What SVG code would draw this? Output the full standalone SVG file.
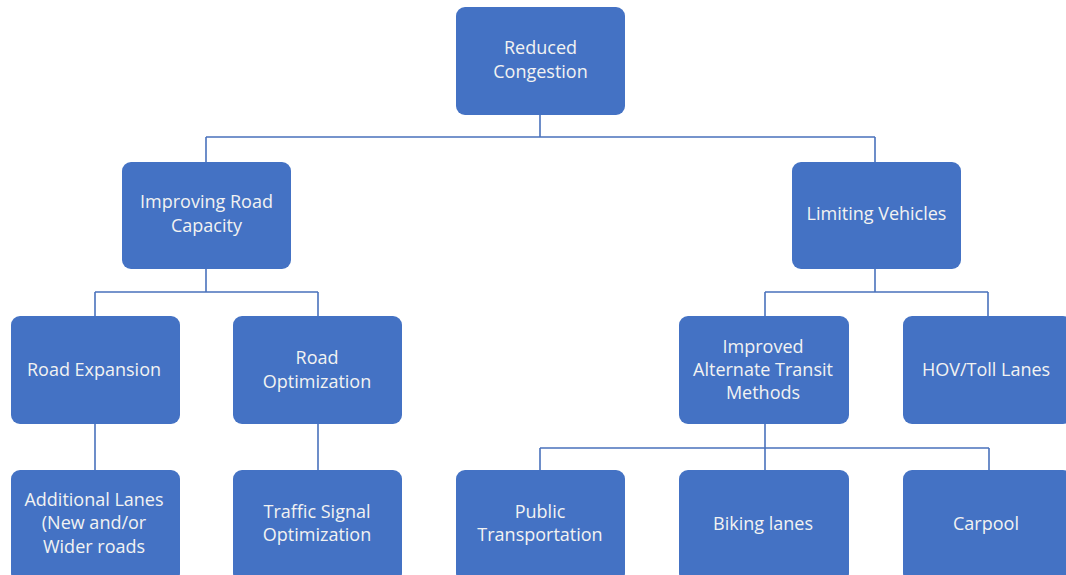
<svg xmlns="http://www.w3.org/2000/svg" width="1066" height="575" viewBox="0 0 1066 575">
<style>
.box{fill:#4472C4;}
.t{font-family:"Open Sans","Noto Sans","Liberation Sans",sans-serif;font-size:18px;fill:#F2F2F2;text-anchor:middle;}
.c{stroke:#4A72BC;stroke-width:1.6;fill:none;}
</style>
<rect width="1066" height="575" fill="#ffffff"/>
<g id="connectors">
<path class="c" d="M540 115V137M206 137H875M206 137V162M875 137V162"/>
<path class="c" d="M206 269V292M95 292H318M95 292V316M318 292V316"/>
<path class="c" d="M875 269V292M765 292H988M765 292V316M988 292V316"/>
<path class="c" d="M95 424V470M318 424V470"/>
<path class="c" d="M765 424V448M540 448H989M540 448V470M765 448V470M989 448V470"/>
</g>
<g id="reduced-congestion"><rect class="box" x="456" y="7" width="169" height="108" rx="9"/><text class="t" x="540.5" y="53.5">Reduced</text><text class="t" x="540.5" y="77.5">Congestion</text></g>
<g id="improving-road-capacity"><rect class="box" x="122" y="162" width="169" height="107" rx="9"/><text class="t" x="206.5" y="207.5">Improving Road</text><text class="t" x="206.5" y="231.5">Capacity</text></g>
<g id="limiting-vehicles"><rect class="box" x="792" y="162" width="169" height="107" rx="9"/><text class="t" x="876.5" y="219.5">Limiting Vehicles</text></g>
<g id="road-expansion"><rect class="box" x="11" y="316" width="169" height="108" rx="9"/><text class="t" x="94" y="375.5">Road Expansion</text></g>
<g id="road-optimization"><rect class="box" x="233" y="316" width="169" height="108" rx="9"/><text class="t" x="317" y="363.5">Road</text><text class="t" x="317" y="387.5">Optimization</text></g>
<g id="improved-alternate-transit"><rect class="box" x="679" y="316" width="170" height="108" rx="9"/><text class="t" x="763" y="352.5">Improved</text><text class="t" x="763" y="375.5">Alternate Transit</text><text class="t" x="763" y="398.5">Methods</text></g>
<g id="hov-toll-lanes"><rect class="box" x="903" y="316" width="169" height="108" rx="9"/><text class="t" x="986" y="375.5">HOV/Toll Lanes</text></g>
<g id="additional-lanes"><rect class="box" x="11" y="470" width="169" height="112" rx="9"/><text class="t" x="94" y="505.5">Additional Lanes</text><text class="t" x="94" y="528.5">(New and/or</text><text class="t" x="94" y="552.5">Wider roads</text></g>
<g id="traffic-signal-optimization"><rect class="box" x="233" y="470" width="169" height="112" rx="9"/><text class="t" x="317" y="517.5">Traffic Signal</text><text class="t" x="317" y="540.5">Optimization</text></g>
<g id="public-transportation"><rect class="box" x="456" y="470" width="169" height="112" rx="9"/><text class="t" x="540" y="517.5">Public</text><text class="t" x="540" y="540.5">Transportation</text></g>
<g id="biking-lanes"><rect class="box" x="679" y="470" width="170" height="112" rx="9"/><text class="t" x="763" y="529.5">Biking lanes</text></g>
<g id="carpool"><rect class="box" x="903" y="470" width="169" height="112" rx="9"/><text class="t" x="986" y="529.5">Carpool</text></g>
</svg>
